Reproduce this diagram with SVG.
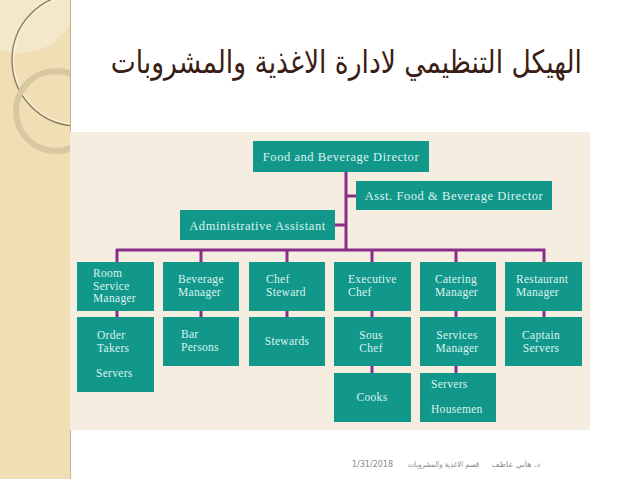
<svg xmlns="http://www.w3.org/2000/svg" width="638" height="479" viewBox="0 0 638 479">
<style>
.box{fill:#12978b;}
.t{font-family:"Liberation Serif","DejaVu Serif",serif;font-size:11.5px;fill:#dcf3ee;letter-spacing:0.3px;}
.tb{font-size:12.5px;letter-spacing:0.55px;}
.tc{text-anchor:middle;}
.ln{stroke:#8a2c8a;stroke-width:3;fill:none;}
.ft{font-family:"DejaVu Sans",sans-serif;font-size:8px;fill:#8a8a8a;}
</style>
<defs>
<clipPath id="strip"><rect x="0" y="0" width="70" height="479"/></clipPath>
</defs>
<rect width="638" height="479" fill="#ffffff"/>
<!-- left decorative strip -->
<rect x="0" y="0" width="70" height="479" fill="#f0dfb4"/>
<g clip-path="url(#strip)">
  <circle cx="20" cy="-5" r="58" fill="#f5ead0" opacity="0.8"/>
  <circle cx="78" cy="60" r="66" fill="none" stroke="#8a7a5e" stroke-width="1.3"/>
  <circle cx="78" cy="60" r="64.5" fill="none" stroke="#fbf5e6" stroke-width="1"/>
  <circle cx="56" cy="111" r="40" fill="none" stroke="#d8c8a0" stroke-width="6"/>
</g>
<line x1="70.5" y1="0" x2="70.5" y2="479" stroke="#c9b58c" stroke-width="1"/>
<!-- title -->
<text transform="translate(582,73) scale(0.83,1)" x="0" y="0" text-anchor="end" font-family="DejaVu Sans, sans-serif" font-size="32" fill="#3a1d14">الهيكل التنظيمي لادارة الاغذية والمشروبات</text>
<!-- chart panel -->
<rect x="70" y="132" width="520" height="298" fill="#f5eee0"/>
<!-- connectors -->
<g id="connectors">
  <line class="ln" x1="346" y1="172" x2="346" y2="250"/>
  <line class="ln" x1="346" y1="196" x2="356" y2="196"/>
  <line class="ln" x1="335" y1="225" x2="346" y2="225"/>
  <line class="ln" x1="116" y1="250" x2="545" y2="250"/>
  <line class="ln" x1="117" y1="249" x2="117" y2="262"/>
  <line class="ln" x1="201" y1="249" x2="201" y2="262"/>
  <line class="ln" x1="287" y1="249" x2="287" y2="262"/>
  <line class="ln" x1="372" y1="249" x2="372" y2="262"/>
  <line class="ln" x1="456" y1="249" x2="456" y2="262"/>
  <line class="ln" x1="544" y1="249" x2="544" y2="262"/>
  <line class="ln" x1="117" y1="311" x2="117" y2="317"/>
  <line class="ln" x1="201" y1="311" x2="201" y2="317"/>
  <line class="ln" x1="287" y1="311" x2="287" y2="317"/>
  <line class="ln" x1="372" y1="311" x2="372" y2="317"/>
  <line class="ln" x1="456" y1="311" x2="456" y2="317"/>
  <line class="ln" x1="544" y1="311" x2="544" y2="317"/>
  <line class="ln" x1="372" y1="366" x2="372" y2="373"/>
  <line class="ln" x1="456" y1="366" x2="456" y2="373"/>
</g>
<g id="fbd"><rect class="box" x="253" y="141" width="176" height="31"/><text class="t tb tc" x="341" y="160.5">Food and Beverage Director</text></g>
<g id="asst"><rect class="box" x="356" y="181" width="196" height="29"/><text class="t tb tc" x="454" y="200">Asst. Food &amp; Beverage Director</text></g>
<g id="admin"><rect class="box" x="180" y="210" width="155" height="30"/><text class="t tb tc" x="257.5" y="229.5">Administrative Assistant</text></g>
<g id="rsm"><rect class="box" x="77" y="262" width="77" height="49"/><text class="t" x="93" y="277">Room</text><text class="t" x="93" y="290">Service</text><text class="t" x="93" y="302">Manager</text></g>
<g id="bm"><rect class="box" x="163" y="262" width="76" height="49"/><text class="t" x="178" y="283">Beverage</text><text class="t" x="178" y="296">Manager</text></g>
<g id="cs"><rect class="box" x="249" y="262" width="76" height="49"/><text class="t" x="266" y="283">Chef</text><text class="t" x="266" y="296">Steward</text></g>
<g id="ec"><rect class="box" x="334" y="262" width="77" height="49"/><text class="t" x="348" y="283">Executive</text><text class="t" x="348" y="296">Chef</text></g>
<g id="cm"><rect class="box" x="420" y="262" width="76" height="49"/><text class="t" x="435" y="283">Catering</text><text class="t" x="435" y="296">Manager</text></g>
<g id="rm"><rect class="box" x="505" y="262" width="77" height="49"/><text class="t" x="516" y="283">Restaurant</text><text class="t" x="516" y="296">Manager</text></g>
<g id="ot"><rect class="box" x="77" y="317" width="77" height="75"/><text class="t" x="97" y="339">Order</text><text class="t" x="97" y="352">Takers</text><text class="t" x="96" y="377">Servers</text></g>
<g id="bp"><rect class="box" x="163" y="317" width="76" height="49"/><text class="t" x="181" y="338">Bar</text><text class="t" x="181" y="351">Persons</text></g>
<g id="st"><rect class="box" x="249" y="317" width="76" height="49"/><text class="t tc" x="287" y="345">Stewards</text></g>
<g id="sc"><rect class="box" x="334" y="317" width="77" height="49"/><text class="t tc" x="371" y="339">Sous</text><text class="t tc" x="371" y="352">Chef</text></g>
<g id="sm"><rect class="box" x="420" y="317" width="76" height="49"/><text class="t tc" x="457" y="339">Services</text><text class="t tc" x="457" y="352">Manager</text></g>
<g id="cps"><rect class="box" x="505" y="317" width="77" height="49"/><text class="t tc" x="541" y="339">Captain</text><text class="t tc" x="541" y="352">Servers</text></g>
<g id="ck"><rect class="box" x="334" y="373" width="77" height="49"/><text class="t tc" x="372" y="401">Cooks</text></g>
<g id="sh"><rect class="box" x="420" y="373" width="76" height="49"/><text class="t" x="431" y="388">Servers</text><text class="t" x="431" y="413">Housemen</text></g>
<!-- footer -->
<text class="ft" x="393" y="467" text-anchor="end">1/31/2018</text>
<text class="ft" transform="translate(479,467) scale(0.85,1)" x="0" y="0" text-anchor="end">قسم الاغذية والمشروبات</text>
<text class="ft" x="540" y="467" text-anchor="end">د. هاني عاطف</text>
</svg>
